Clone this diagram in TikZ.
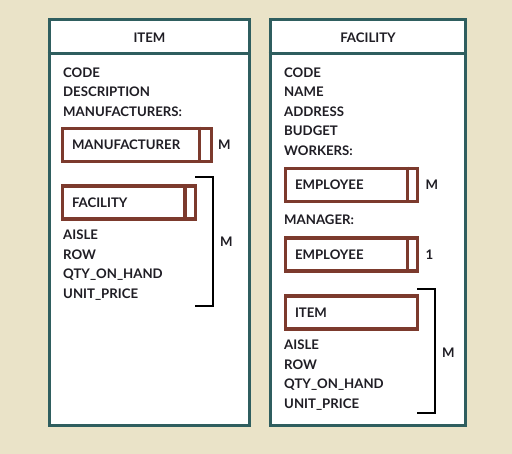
\documentclass[tikz,border=0pt]{standalone}
\usepackage{fontspec}
\setmainfont{Lato}
\usetikzlibrary{positioning}
\definecolor{bgbeige}{HTML}{EAE3C8}
\definecolor{panelteal}{HTML}{2F5E5F}
\definecolor{boxbrown}{HTML}{7C3A2D}
\definecolor{inkdark}{HTML}{1F1D24}
\begin{document}
\begin{tikzpicture}
[x=1pt,y=-1pt
,lbl/.style={font=\fontsize{13.2}{15}\selectfont\bfseries,text=inkdark,inner sep=0pt}
,fld/.style={lbl,anchor=base west}
,panel/.style={draw=panelteal,line width=3.6pt,fill=white,minimum width=#1,minimum height=406pt,inner sep=0pt}
,hdr/.style={draw=panelteal,line width=3.6pt}
,embox/.style={lbl,draw=boxbrown,line width=3.6pt,minimum height=33pt,inner xsep=9.5pt,text width=#1,align=left}
,divl/.style={draw=boxbrown,line width=3.6pt}
,brk/.style={draw=black,line width=2.3pt}
]
\fill[bgbeige] (0,0) rectangle (512,454);
\useasboundingbox (0,0) rectangle (512,454);
% left panel
\node[panel=200pt] (itempanel) at (149.5,222.5) {};
\draw[hdr] ([yshift=-36pt]itempanel.north west) -- ([yshift=-36pt]itempanel.north east);
\node[lbl] (itemtitle) at (149.5,38) {ITEM};
\foreach \t [count=\i] in {CODE,DESCRIPTION,MANUFACTURERS:}
  \node[fld] (il\i) at (63,77.5+19.5*\i-19.5) {\t};
\node[embox=130pt] (mfr) at (137,145) {MANUFACTURER};
\draw[divl] ([xshift=-14pt]mfr.north east) -- ([xshift=-14pt]mfr.south east);
\node[lbl,anchor=west,right=4.5pt of mfr] (mfrm) {M};
\node[embox=114pt] (fac) at (129,202.5) {FACILITY};
\draw[divl] ([xshift=-12.5pt]fac.north east) -- ([xshift=-12.5pt]fac.south east);
\foreach \t [count=\i] in {AISLE,ROW,QTY\_ON\_HAND,UNIT\_PRICE}
  \node[fld] (ia\i) at (63,239.5+19.7*\i-19.7) {\t};
\draw[brk] (195,177) -| (213,306) -- (195,306);
\node[lbl,anchor=west] (facm) at (220,241.5) {M};
% right panel
\node[panel=195pt] (facpanel) at (368,222.5) {};
\draw[hdr] ([yshift=-36pt]facpanel.north west) -- ([yshift=-36pt]facpanel.north east);
\node[lbl] (factitle) at (368,38) {FACILITY};
\foreach \t [count=\i] in {CODE,NAME,ADDRESS,BUDGET,WORKERS:}
  \node[fld] (fl\i) at (284,77.5+19.5*\i-19.5) {\t};
\node[embox=113pt] (emp1) at (351.5,185) {EMPLOYEE};
\draw[divl] ([xshift=-12pt]emp1.north east) -- ([xshift=-12pt]emp1.south east);
\node[lbl,anchor=west,right=6pt of emp1] (emp1m) {M};
\node[fld] (mgr) at (284,224.5) {MANAGER:};
\node[embox=113pt] (emp2) at (351.5,254.5) {EMPLOYEE};
\draw[divl] ([xshift=-12pt]emp2.north east) -- ([xshift=-12pt]emp2.south east);
\node[lbl,anchor=west,right=6pt of emp2] (emp2one) {1};
\node[embox=113pt] (itm) at (351.5,312.5) {ITEM};
\foreach \t [count=\i] in {AISLE,ROW,QTY\_ON\_HAND,UNIT\_PRICE}
  \node[fld] (fa\i) at (284,349.5+19.7*\i-19.7) {\t};
\draw[brk] (417,289) -| (435,413) -- (417,413);
\node[lbl,anchor=west] (itmm) at (442,353) {M};
\end{tikzpicture}
\end{document}
